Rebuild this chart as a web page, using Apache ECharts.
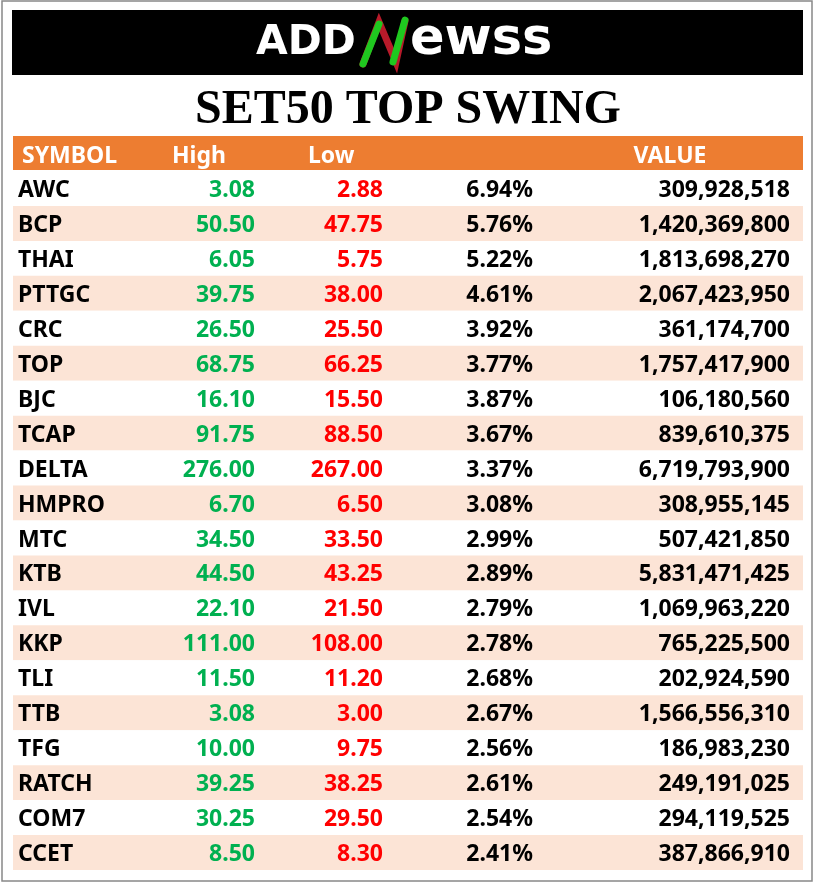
<!DOCTYPE html>
<html><head><meta charset="utf-8">
<script src="https://cdn.jsdelivr.net/npm/echarts@6/dist/echarts.min.js"></script>
<style>html,body{margin:0;padding:0;background:#fff}#c{width:815px;height:883px}</style>
</head><body><div id="c"></div>
<script>
// table data
var symbols = ['AWC','BCP','THAI','PTTGC','CRC','TOP','BJC','TCAP','DELTA','HMPRO','MTC','KTB','IVL','KKP','TLI','TTB','TFG','RATCH','COM7','CCET'];
var highs = ['3.08','50.50','6.05','39.75','26.50','68.75','16.10','91.75','276.00','6.70','34.50','44.50','22.10','111.00','11.50','3.08','10.00','39.25','30.25','8.50'];
var lows = ['2.88','47.75','5.75','38.00','25.50','66.25','15.50','88.50','267.00','6.50','33.50','43.25','21.50','108.00','11.20','3.00','9.75','38.25','29.50','8.30'];
var swings = ['6.94%','5.76%','5.22%','4.61%','3.92%','3.77%','3.87%','3.67%','3.37%','3.08%','2.99%','2.89%','2.79%','2.78%','2.68%','2.67%','2.56%','2.61%','2.54%','2.41%'];
var values = ['309,928,518','1,420,369,800','1,813,698,270','2,067,423,950','361,174,700','1,757,417,900','106,180,560','839,610,375','6,719,793,900','308,955,145','507,421,850','5,831,471,425','1,069,963,220','765,225,500','202,924,590','1,566,556,310','186,983,230','249,191,025','294,119,525','387,866,910'];
var headers = ['SYMBOL','High','Low','VALUE'];

var myChart = echarts.init(document.getElementById('c'));
var font = 'bold 23px "Noto Sans", sans-serif';

function txt(x, y, s, color, align) {
  return { type: 'text', style: { x: x, y: y + 2, text: s, fill: color, align: align,
    verticalAlign: 'middle', font: font } };
}

var option = {
  animation: false,
  grid: { left: 0, right: 0, top: 171, bottom: 13 },
  xAxis: { type: 'value', min: 0, max: 815, show: false },
  yAxis: { type: 'category', data: symbols, inverse: true, show: false },
  graphic: [
    { type: 'rect', shape: { x: 2, y: 1, width: 810, height: 880 }, style: { fill: 'none', stroke: '#888', lineWidth: 1.5 } },
    { type: 'rect', shape: { x: 12, y: 10, width: 791, height: 65 }, style: { fill: '#000' } },
    { type: 'text', style: { x: 256, y: 43, text: 'ADD', fill: '#fff', verticalAlign: 'middle', font: 'bold 41px "DejaVu Sans"' } },
    { type: 'polyline', shape: { points: [[363, 64], [379, 22], [396, 62], [405, 21]] }, style: { stroke: '#b81a2a', lineWidth: 7, lineCap: 'round', fill: 'none' } },
    { type: 'line', shape: { x1: 363, y1: 64, x2: 379, y2: 24 }, style: { stroke: '#1fc81f', lineWidth: 7, lineCap: 'round' } },
    { type: 'line', shape: { x1: 393, y1: 62, x2: 405, y2: 20 }, style: { stroke: '#1fc81f', lineWidth: 7, lineCap: 'round' } },
    { type: 'text', style: { x: 410, y: 41, text: 'ewss', fill: '#fff', verticalAlign: 'middle', font: 'bold 51px "DejaVu Sans"' } },
    { type: 'text', style: { x: 408, y: 111, text: 'SET50 TOP SWING', fill: '#000', align: 'center', verticalAlign: 'middle', font: 'bold 48px "Liberation Serif"' } },
    { type: 'rect', shape: { x: 13, y: 136, width: 790, height: 34 }, style: { fill: '#ed7d31' } },
    { type: 'text', style: { x: 22, y: 156, text: headers[0], fill: '#fff', verticalAlign: 'middle', font: font } },
    { type: 'text', style: { x: 172, y: 156, text: headers[1], fill: '#fff', verticalAlign: 'middle', font: font } },
    { type: 'text', style: { x: 308, y: 156, text: headers[2], fill: '#fff', verticalAlign: 'middle', font: font } },
    { type: 'text', style: { x: 670, y: 156, text: headers[3], fill: '#fff', align: 'center', verticalAlign: 'middle', font: font } }
  ],
  series: [{
    type: 'custom',
    data: symbols.map(function (s, i) { return [0, i]; }),
    encode: { x: 0, y: 1 },
    renderItem: function (params, api) {
      var i = params.dataIndex;
      var p = api.coord([0, i]);
      var h = api.size([0, 1])[1];
      return {
        type: 'group',
        children: [
          { type: 'rect', shape: { x: 13, y: p[1] - h / 2, width: 790, height: h },
            style: { fill: i % 2 ? '#fce4d6' : '#fff' } },
          txt(18, p[1], symbols[i], '#000', 'left'),
          txt(255, p[1], highs[i], '#00b050', 'right'),
          txt(383, p[1], lows[i], '#ff0000', 'right'),
          txt(533, p[1], swings[i], '#000', 'right'),
          txt(790, p[1], values[i], '#000', 'right')
        ]
      };
    }
  }]
};
myChart.setOption(option);
</script></body></html>
